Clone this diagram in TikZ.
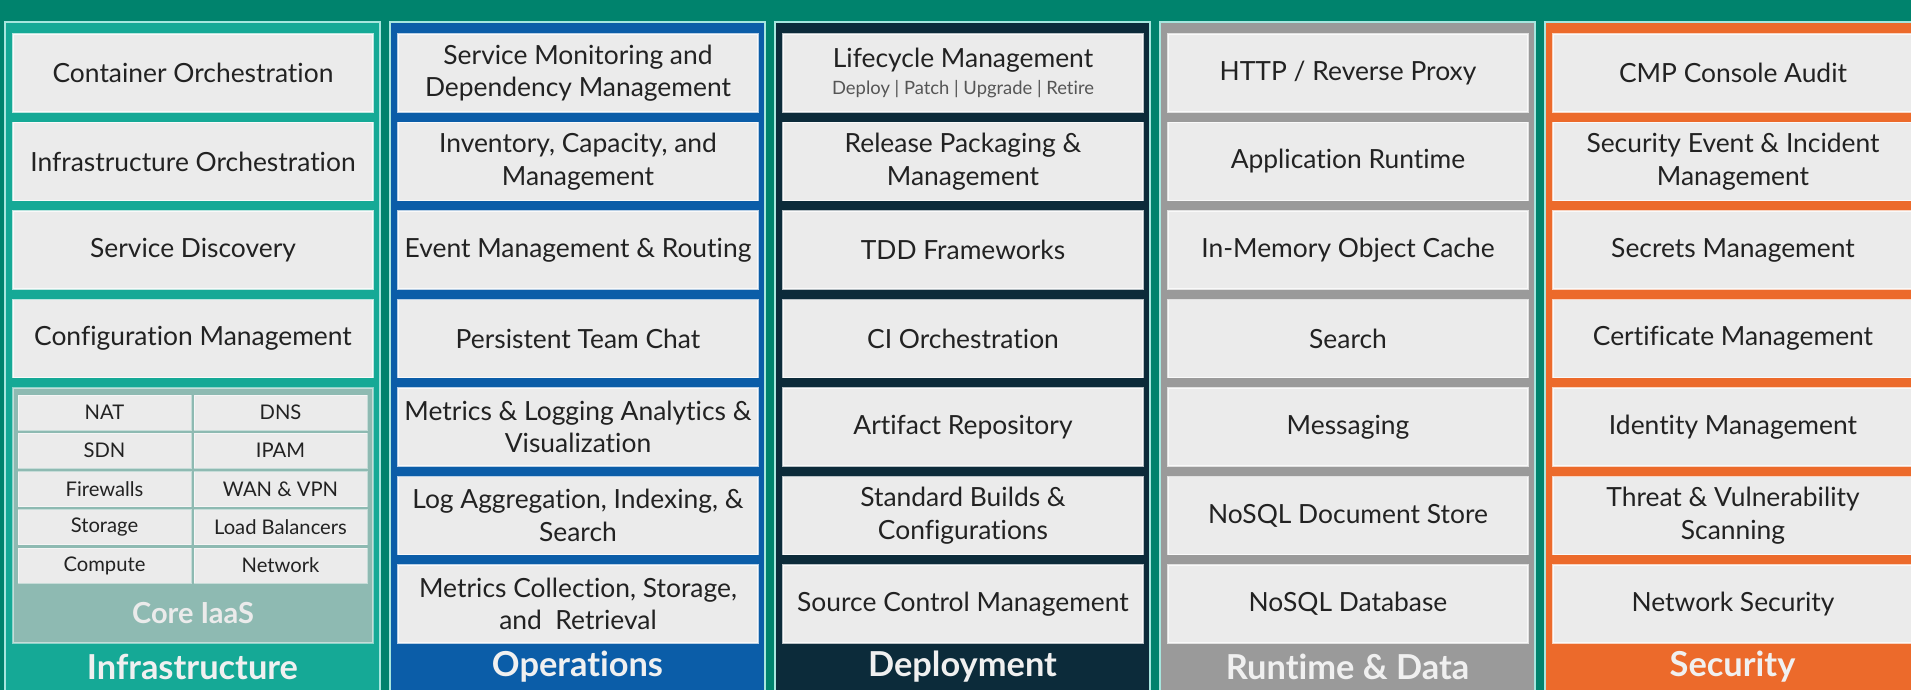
\documentclass[tikz,border=0pt]{standalone}
\usepackage{fontspec}
\setmainfont{Lato}[Ligatures=NoCommon]
\definecolor{bgc}{HTML}{00836D}
\definecolor{infra}{HTML}{15A996}
\definecolor{ops}{HTML}{0B5DA8}
\definecolor{dep}{HTML}{0C2B3A}
\definecolor{run}{HTML}{9A9A9A}
\definecolor{sec}{HTML}{EC6A2B}
\definecolor{boxfill}{HTML}{EBEBEB}
\definecolor{corefill}{HTML}{8EBAB2}
\definecolor{outl}{HTML}{A6E6DE}
\definecolor{textc}{HTML}{222222}
\definecolor{subc}{HTML}{555555}
\newcommand\mainf{\fontsize{13.2}{16.2}\selectfont}
\newcommand\gridf{\fontsize{10.1}{12}\selectfont}
\newcommand\labf{\fontsize{17.2}{20}\selectfont\bfseries}
\newcommand\coref{\fontsize{14.5}{17}\selectfont\bfseries}
\tikzset{
  colbox/.style={draw=outl, line width=1pt},
  cell/.style={draw=white, draw opacity=0.7, line width=0.7pt, fill=boxfill,
    minimum width=180pt, minimum height=39pt, align=center, text=textc,
    font=\mainf, inner sep=0pt},
  gcell/.style={draw=white, draw opacity=0.5, line width=0.5pt, fill=boxfill,
    minimum width=86.5pt, minimum height=17.5pt, text=textc, font=\gridf, inner sep=0pt},
  collabel/.style={text=white!94!black, font=\labf},
}
\begin{document}
\begin{tikzpicture}[x=0.5pt,y=-0.5pt]
\useasboundingbox (0,0) rectangle (1911,690);
\fill[bgc] (0,0) rectangle (1911,690);
% columns
\filldraw[colbox, fill=infra] (5,22) rectangle (380,700);
\filldraw[colbox, fill=ops] (390,22) rectangle (765,700);
\filldraw[colbox, fill=dep] (775,22) rectangle (1150,700);
\filldraw[colbox, fill=run] (1160,22) rectangle (1535,700);
\filldraw[colbox, fill=sec] (1545,22) rectangle (1930,700);
% Infrastructure
\node[cell] (i1) at (193,73) {Container Orchestration};
\node[cell] (i2) at (193,161.5) {Infrastructure Orchestration};
\node[cell] (i3) at (193,250) {Service Discovery};
\node[cell] (i4) at (193,338.5) {Configuration Management};
\node[draw=white, draw opacity=0.5, line width=0.6pt, fill=corefill, minimum width=180pt, minimum height=127.5pt, inner sep=0pt] (core) at (193,515.5) {};
\node[text=white!92!black, font=\coref] (corelab) at (193,613) {Core IaaS};
\node[gcell] (g1) at (104.5,412.5) {NAT};
\node[gcell] (g2) at (280.5,412.5) {DNS};
\node[gcell] (g3) at (104.5,450.75) {SDN};
\node[gcell] (g4) at (280.5,450.75) {IPAM};
\node[gcell] (g5) at (104.5,489) {Firewalls};
\node[gcell] (g6) at (280.5,489) {WAN \& VPN};
\node[gcell] (g7) at (104.5,527.25) {Storage};
\node[gcell] (g8) at (280.5,527.25) {Load Balancers};
\node[gcell] (g9) at (104.5,565.5) {Compute};
\node[gcell] (g10) at (280.5,565.5) {Network};
\node[collabel] (li) at (192.5,667) {Infrastructure};
% Operations
\node[cell] (o1) at (578,73) {Service Monitoring and\\Dependency Management};
\node[cell] (o2) at (578,161.5) {Inventory, Capacity, and\\Management};
\node[cell] (o3) at (578,250) {Event Management \& Routing};
\node[cell] (o4) at (578,338.5) {Persistent Team Chat};
\node[cell] (o5) at (578,427) {Metrics \& Logging Analytics \&\\Visualization};
\node[cell] (o6) at (578,515.5) {Log Aggregation, Indexing, \&\\Search};
\node[cell] (o7) at (578,604) {Metrics Collection, Storage,\\and~ Retrieval};
\node[collabel] (lo) at (577.5,667) {Operations};
% Deployment
\node[cell] (d1) at (963,73) {Lifecycle Management\\[-3pt]{\fontsize{9.2}{10}\selectfont\color{subc}Deploy | Patch | Upgrade | Retire}};
\node[cell] (d2) at (963,161.5) {Release Packaging \&\\Management};
\node[cell] (d3) at (963,250) {TDD Frameworks};
\node[cell] (d4) at (963,338.5) {CI Orchestration};
\node[cell] (d5) at (963,427) {Artifact Repository};
\node[cell] (d6) at (963,515.5) {Standard Builds \&\\Configurations};
\node[cell] (d7) at (963,604) {Source Control Management};
\node[collabel] (ld) at (962.5,667) {Deployment};
% Runtime & Data
\node[cell] (r1) at (1348,73) {HTTP / Reverse Proxy};
\node[cell] (r2) at (1348,161.5) {Application Runtime};
\node[cell] (r3) at (1348,250) {In-Memory Object Cache};
\node[cell] (r4) at (1348,338.5) {Search};
\node[cell] (r5) at (1348,427) {Messaging};
\node[cell] (r6) at (1348,515.5) {NoSQL Document Store};
\node[cell] (r7) at (1348,604) {NoSQL Database};
\node[collabel] (lr) at (1347.5,667) {Runtime \& Data};
% Security
\node[cell] (s1) at (1733,73) {CMP Console Audit};
\node[cell] (s2) at (1733,161.5) {Security Event \& Incident\\Management};
\node[cell] (s3) at (1733,250) {Secrets Management};
\node[cell] (s4) at (1733,338.5) {Certificate Management};
\node[cell] (s5) at (1733,427) {Identity Management};
\node[cell] (s6) at (1733,515.5) {Threat \& Vulnerability\\Scanning};
\node[cell] (s7) at (1733,604) {Network Security};
\node[collabel] (ls) at (1732.5,667) {Security};
\end{tikzpicture}
\end{document}
